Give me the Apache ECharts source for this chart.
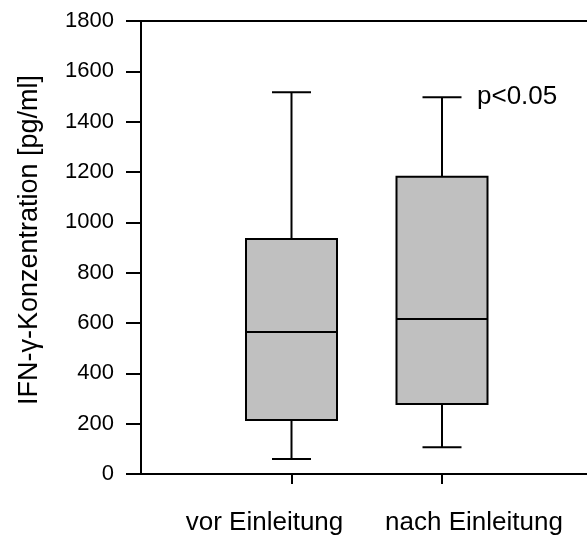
<!DOCTYPE html>
<html>
<head>
<meta charset="utf-8">
<script src="https://cdn.jsdelivr.net/npm/echarts@6/dist/echarts.min.js"></script>
<style>
  html, body { margin: 0; padding: 0; background: #fff; }
  #boxChart { width: 587px; height: 540px; }
</style>
</head>
<body>
<div id="boxChart"></div>
<script>
// categories (empty ends keep the two boxes off the frame)
const categories = ['', 'vor Einleitung', 'nach Einleitung', '']
// [category index, min, Q1, median, Q3, max]
const vorValues = [1, 60, 215, 564, 934, 1517]
const nachValues = [2, 106, 278, 616, 1181, 1497]
const yTicks = { min: 0, max: 1800, interval: 200 }
const pText = 'p<0.05'

const font = 'Liberation Sans, Arial, sans-serif'
const myChart = echarts.init(document.getElementById('boxChart'))

function renderBox(params, api) {
  const x = api.value(0)
  const pMin = api.coord([x, api.value(1)])
  const pQ1 = api.coord([x, api.value(2)])
  const pMed = api.coord([x, api.value(3)])
  const pQ3 = api.coord([x, api.value(4)])
  const pMax = api.coord([x, api.value(5)])
  const cx = pMin[0]
  const half = 45.5
  const cap = 19.5
  const line = { stroke: '#000', lineWidth: 2 }
  return {
    type: 'group',
    children: [
      { type: 'line', shape: { x1: cx, y1: pMin[1], x2: cx, y2: pQ1[1] }, style: line },
      { type: 'line', shape: { x1: cx, y1: pQ3[1], x2: cx, y2: pMax[1] }, style: line },
      { type: 'line', shape: { x1: cx - cap, y1: pMin[1], x2: cx + cap, y2: pMin[1] }, style: line },
      { type: 'line', shape: { x1: cx - cap, y1: pMax[1], x2: cx + cap, y2: pMax[1] }, style: line },
      {
        type: 'rect',
        shape: { x: cx - half, y: pQ3[1], width: half * 2, height: pQ1[1] - pQ3[1] },
        style: { fill: '#c0c0c0', stroke: '#000', lineWidth: 2 }
      },
      { type: 'line', shape: { x1: cx - half, y1: pMed[1], x2: cx + half, y2: pMed[1] }, style: line }
    ]
  }
}

const option = {
  animation: false,
  grid: { left: 141, top: 21, bottom: 66, right: -5.5, containLabel: false, outerBoundsMode: 'none' },
  xAxis: [
    {
      type: 'category',
      data: categories,
      boundaryGap: false,
      axisLine: { lineStyle: { color: '#000', width: 2 } },
      axisTick: {
        length: 10,
        lineStyle: { color: '#000', width: 2 },
        interval: (i) => i === 1 || i === 2
      },
      axisLabel: {
        interval: 0,
        margin: 36,
        formatter: (v) => {
          if (v === categories[1]) return '{a|' + v + '}'
          if (v === categories[2]) return '{b|' + v + '}'
          return ''
        },
        rich: {
          a: { fontSize: 26, fontFamily: font, color: '#000', padding: [0, 54, 0, 0] },
          b: { fontSize: 26, fontFamily: font, color: '#000', padding: [0, 0, 0, 64] }
        }
      },
      splitLine: { show: false }
    },
    {
      type: 'category',
      data: categories,
      position: 'top',
      boundaryGap: false,
      axisLine: { lineStyle: { color: '#000', width: 2 } },
      axisTick: { show: false },
      axisLabel: { show: false },
      splitLine: { show: false }
    }
  ],
  yAxis: {
    type: 'value',
    min: yTicks.min,
    max: yTicks.max,
    interval: yTicks.interval,
    name: 'IFN-γ-Konzentration [pg/ml]',
    nameLocation: 'middle',
    nameGap: 98,
    nameTextStyle: { fontSize: 27, fontFamily: font, color: '#000', padding: [0, 0, 0, 15] },
    axisLine: { show: true, lineStyle: { color: '#000', width: 2 } },
    axisTick: { show: true, length: 15, lineStyle: { color: '#000', width: 2 } },
    axisLabel: {
      margin: 27,
      fontSize: 22,
      fontFamily: font,
      color: '#000',
      formatter: (v) => String(v)
    },
    splitLine: { show: false }
  },
  series: [
    {
      type: 'custom',
      renderItem: renderBox,
      encode: { x: 0, y: [1, 2, 3, 4, 5] },
      data: [vorValues, nachValues],
      markPoint: {
        symbol: 'circle',
        symbolSize: 0,
        label: {
          show: true,
          position: 'right',
          distance: 35,
          formatter: pText,
          fontSize: 26,
          fontFamily: font,
          color: '#000'
        },
        data: [{ coord: [nachValues[0], nachValues[5]] }]
      }
    }
  ]
}

myChart.setOption(option)
</script>
</body>
</html>
